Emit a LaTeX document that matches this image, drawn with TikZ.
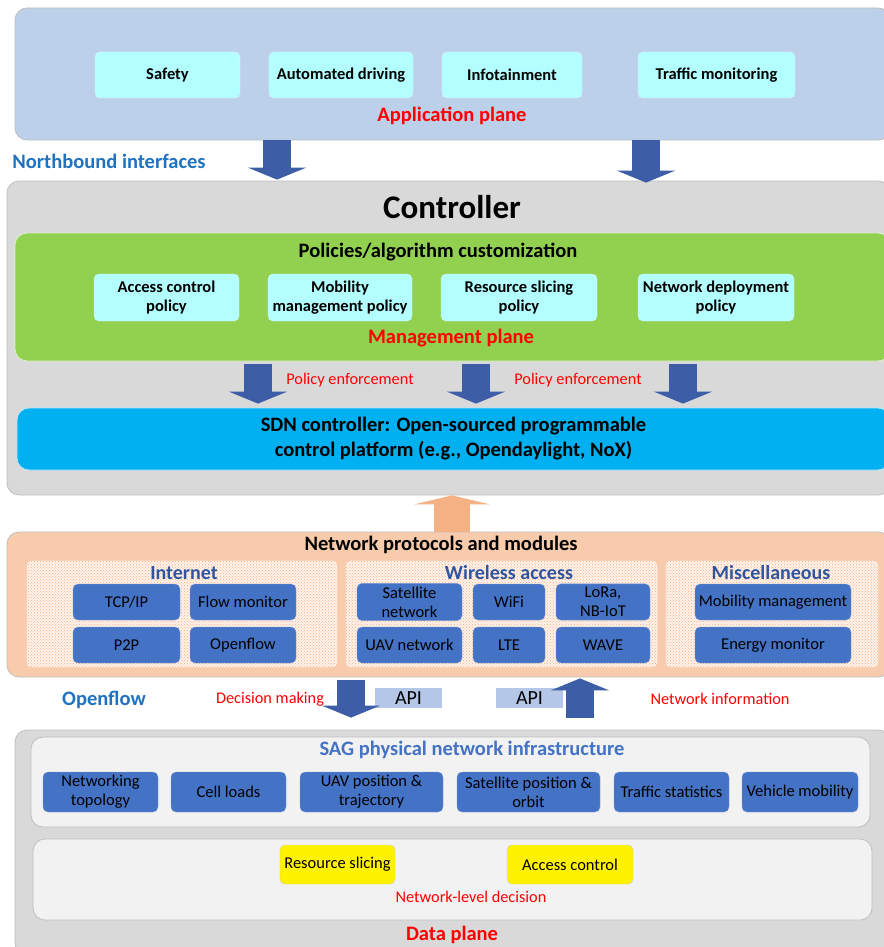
\documentclass[tikz,border=0pt]{standalone}
\usepackage{fontspec}
\setmainfont{Carlito}
\usetikzlibrary{arrows.meta,patterns}
\definecolor{appblue}{HTML}{BDD0E9}
\definecolor{cyanbox}{HTML}{B3FFFF}
\definecolor{panegray}{HTML}{D9D9D9}
\definecolor{edgegray}{HTML}{BFBFBF}
\definecolor{mgmtgreen}{HTML}{92D050}
\definecolor{sdnblue}{HTML}{00B0F0}
\definecolor{protorange}{HTML}{F8CBAD}
\definecolor{uparrow}{HTML}{F4B183}
\definecolor{modblue}{HTML}{4472C4}
\definecolor{arrblue}{HTML}{3D5DA6}
\definecolor{headblue}{HTML}{1F72C0}
\definecolor{groupblue}{HTML}{2F55A0}
\definecolor{apibox}{HTML}{B4C7E7}
\definecolor{lightpane}{HTML}{F2F2F2}
\definecolor{hatch}{HTML}{F4B183}

\begin{document}
\begin{tikzpicture}[x=1pt,y=-1pt,
	pane/.style={draw=edgegray, line width=0.8pt, rounded corners=12pt},
	appbox/.style={fill=cyanbox, draw=white!85!cyan, rounded corners=5pt, align=center, font=\fontsize{16.5}{19}\selectfont\bfseries},
	modbox/.style={fill=modblue, draw=modblue!70!white, rounded corners=5pt, align=center, font=\fontsize{16.5}{19}\selectfont},
	group/.style={fill=white!75!protorange, draw=white, rounded corners=5pt, postaction={pattern=crosshatch dots, pattern color=hatch}},
	grouptitle/.style={text=groupblue, font=\fontsize{20}{22}\selectfont\bfseries},
	redtitle/.style={text=red, font=\fontsize{20.5}{22}\selectfont\bfseries},
	redlabel/.style={text=red, font=\fontsize{16.3}{18}\selectfont},
	bluetitle/.style={text=headblue, font=\fontsize{20.5}{22}\selectfont\bfseries},
	blockarrow/.style={arrblue, line width=28pt, -{Triangle[width=58pt,length=12pt]}}]
	\useasboundingbox (0,0) rectangle (883,947);

	% planes
	\node[pane, fill=appblue, minimum width=875pt, minimum height=132pt] (app) at (452.5,74) {};
	\node[pane, fill=panegray, minimum width=883pt, minimum height=314pt] (ctrl) at (448.5,338) {};
	\node[pane, fill=mgmtgreen, draw=white!70!mgmtgreen, minimum width=875pt, minimum height=128pt] (mgmt) at (452.5,297) {};
	\node[pane, fill=sdnblue, draw=white!70!sdnblue, minimum width=873pt, minimum height=62pt, align=center,
		font=\fontsize{20.5}{25}\selectfont\bfseries] (sdn) at (453.5,439)
		{SDN controller: Open-sourced programmable\\control platform (e.g., Opendaylight, NoX)};
	\node[pane, fill=protorange, minimum width=883pt, minimum height=145pt] (prot) at (448.5,604.5) {};
	\node[pane, fill=panegray, minimum width=875pt, minimum height=225pt] (data) at (452.5,842.5) {};
	\node[pane, fill=lightpane, minimum width=839pt, minimum height=90pt] (sag) at (450.5,782) {};
	\node[pane, fill=lightpane, minimum width=839pt, minimum height=81pt] (dec) at (452.5,879.5) {};

	% application plane
	\node[appbox, minimum width=145pt, minimum height=46pt] (safety) at (167.5,75) {Safety};
	\node[appbox, minimum width=144pt, minimum height=46pt] (auto) at (341,75) {Automated driving};
	\node[appbox, minimum width=140pt, minimum height=46pt] (info) at (512,75) {Infotainment};
	\node[appbox, minimum width=157pt, minimum height=46pt] (traffic) at (716.5,75) {Traffic monitoring};
	\node[redtitle] (apptitle) at (452,116) {Application plane};
	\node[bluetitle] (north) at (109,161) {Northbound interfaces};

	% controller
	\node[font=\fontsize{33}{36}\selectfont\bfseries] (ctrltitle) at (452,207) {Controller};
	\node[font=\fontsize{20.5}{22}\selectfont\bfseries] (poltitle) at (438,252) {Policies/algorithm customization};
	\node[appbox, minimum width=145pt, minimum height=47pt] (acc) at (166.5,297.5) {Access control\\policy};
	\node[appbox, minimum width=144pt, minimum height=47pt] (mob) at (340,297.5) {Mobility\\management policy};
	\node[appbox, minimum width=156pt, minimum height=47pt] (res) at (519,297.5) {Resource slicing\\policy};
	\node[appbox, minimum width=156pt, minimum height=47pt] (dep) at (716,297.5) {Network deployment\\policy};
	\node[redtitle] (mgmttitle) at (451,338) {Management plane};
	\node[redlabel] (enf1) at (350,380) {Policy enforcement};
	\node[redlabel] (enf2) at (578,380) {Policy enforcement};

	% network protocols and modules
	\node[font=\fontsize{20.5}{22}\selectfont\bfseries] (prottitle) at (441,545) {Network protocols and modules};
	\node[group, minimum width=310pt, minimum height=106pt] (inet) at (182,614) {};
	\node[group, minimum width=311pt, minimum height=106pt] (wless) at (501.5,614) {};
	\node[group, minimum width=212pt, minimum height=106pt] (misc) at (772,614) {};
	\node[grouptitle] at (184,573) {Internet};
	\node[grouptitle] at (509,573) {Wireless access};
	\node[grouptitle] at (771,573) {Miscellaneous};
	\node[modbox, minimum width=107pt, minimum height=36pt] (tcp) at (126.5,602) {TCP/IP};
	\node[modbox, minimum width=106pt, minimum height=36pt] (flow) at (243,602) {Flow monitor};
	\node[modbox, minimum width=107pt, minimum height=36pt] (p2p) at (126.5,645) {P2P};
	\node[modbox, minimum width=106pt, minimum height=36pt] (ofl) at (243,645) {Openflow};
	\node[modbox, minimum width=105pt, minimum height=36pt] (sat) at (409.5,602) {Satellite\\network};
	\node[modbox, minimum width=72pt, minimum height=36pt] (wifi) at (509,602) {WiFi};
	\node[modbox, minimum width=94pt, minimum height=36pt] (lora) at (603,602) {LoRa,\\NB-IoT};
	\node[modbox, minimum width=105pt, minimum height=36pt] (uav) at (409.5,645) {UAV network};
	\node[modbox, minimum width=72pt, minimum height=36pt] (lte) at (509,645) {LTE};
	\node[modbox, minimum width=94pt, minimum height=36pt] (wave) at (603,645) {WAVE};
	\node[modbox, minimum width=156pt, minimum height=36pt] (mobm) at (773,602) {Mobility management};
	\node[modbox, minimum width=156pt, minimum height=36pt] (energy) at (773,645) {Energy monitor};

	% openflow interface
	\node[bluetitle] (oftitle) at (104,700) {Openflow};
	\node[redlabel] (decmk) at (270,699) {Decision making};
	\node[redlabel] (netinfo) at (720,699) {Network information};
	\node[fill=apibox, minimum width=67pt, minimum height=20pt, inner sep=0pt, font=\fontsize{20}{20}\selectfont] (api1) at (408.5,698) {API};
	\node[fill=apibox, minimum width=67pt, minimum height=20pt, inner sep=0pt, font=\fontsize{20}{20}\selectfont] (api2) at (529.5,698) {API};

	% data plane
	\node[text=modblue, font=\fontsize{20.5}{22}\selectfont\bfseries] (sagtitle) at (472,750) {SAG physical network infrastructure};
	\node[modbox, minimum width=115pt, minimum height=40pt] (topo) at (100.5,792) {Networking\\topology};
	\node[modbox, minimum width=115pt, minimum height=40pt] (cell) at (228.5,792) {Cell loads};
	\node[modbox, minimum width=143pt, minimum height=40pt] (uavpos) at (371.5,792) {UAV position \&\\trajectory};
	\node[modbox, minimum width=143pt, minimum height=40pt] (satpos) at (528.5,792) {Satellite position \&\\orbit};
	\node[modbox, minimum width=115pt, minimum height=40pt] (tstat) at (671.5,792) {Traffic statistics};
	\node[modbox, minimum width=116pt, minimum height=40pt] (vmob) at (800,792) {Vehicle mobility};
	\node[fill=yellow, draw=white!60!yellow!80!black, rounded corners=5pt, minimum width=115pt, minimum height=39pt, font=\fontsize{16.5}{18}\selectfont] (rslice) at (337.5,864.5) {Resource slicing};
	\node[fill=yellow, draw=white!60!yellow!80!black, rounded corners=5pt, minimum width=126pt, minimum height=39pt, font=\fontsize{16.5}{18}\selectfont] (actl) at (570,864.5) {Access control};
	\node[redlabel] (netlvl) at (471,897) {Network-level decision};
	\node[redtitle] (datatitle) at (452,935) {Data plane};

	% block arrows
	\coordinate (x1) at (277,0);
	\coordinate (x2) at (646,0);
	\coordinate (x3) at (258,0);
	\coordinate (x4) at (476,0);
	\coordinate (x5) at (683,0);
	\coordinate (x6) at (452,0);
	\coordinate (x7) at (351,0);
	\coordinate (x8) at (580,0);
	\draw[blockarrow, shorten >=1pt] (app.south -| x1) -- (ctrl.north -| x1);
	\draw[blockarrow, shorten >=-2pt] (app.south -| x2) -- (ctrl.north -| x2);
	\foreach \c in {x3,x4,x5}
		\draw[blockarrow, shorten <=3pt, shorten >=4pt] (mgmt.south -| \c) -- (sdn.north -| \c);
	\draw[uparrow, line width=36pt, -{Triangle[width=76pt,length=9pt]}] (prot.north -| x6) -- (ctrl.south -| x6);
	\draw[blockarrow, shorten <=3pt, shorten >=12pt] (prot.south -| x7) -- (data.north -| x7);
	\draw[blockarrow, shorten <=12pt, shorten >=1pt] (data.north -| x8) -- (prot.south -| x8);
\end{tikzpicture}
\end{document}
